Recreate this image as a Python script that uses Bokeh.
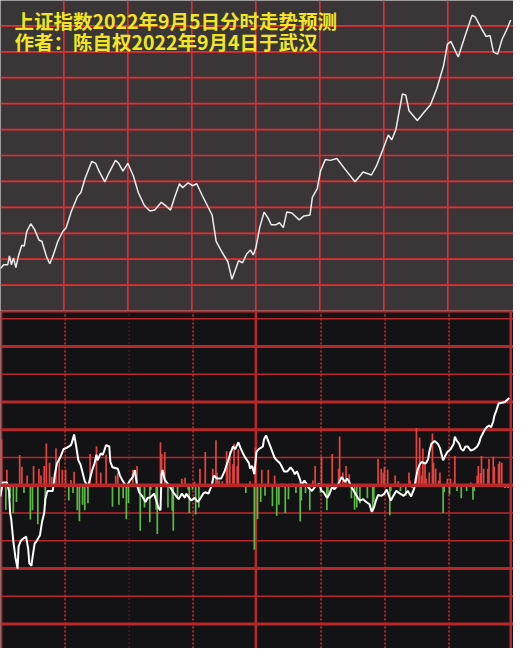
from bokeh.plotting import figure
from bokeh.models import Range1d, Span, Label
from bokeh.layouts import column
from bokeh.embed import file_html
from bokeh.resources import INLINE

# ---------------- data ----------------
title_line1 = "上证指数2022年9月5日分时走势预测"
title_line2 = "作者：陈自权2022年9月4日于武汉"

# top panel: predicted index (minutes after open, index level)
price_t = [0, 1.5, 3.4, 4.2, 5.1, 6.1, 7.2, 8.4, 10.0, 11.1,
           12.3, 14.2, 16.0, 18.1, 19.4, 21.6, 23.1, 24.6, 26.9, 29.2,
           30.8, 33.1, 36.1, 37.7, 39.7, 42.8, 44.6, 46.2, 48.9, 50.8,
           53.9, 55.4, 57.4, 59.7, 62.3, 64.6, 67.4, 70.0, 72.3, 75.4,
           77.7, 79.7, 81.6, 83.9, 85.4, 88.0, 90.0, 92.0, 94.6, 96.9,
           99.2, 101.1, 103.8, 106.6, 108.5, 110.0, 111.6, 113.5, 115.4, 117.2,
           118.5, 119.7, 121.5, 123.6, 125.4, 126.9, 129.2, 130.8, 132.6, 134.2,
           136.6, 140.0, 142.3, 145.1, 146.2, 148.5, 150.0, 152.3, 154.6, 157.7,
           161.5, 166.2, 170.0, 173.9, 176.2, 179.2, 181.8, 183.4, 185.4, 188.4,
           190.0, 191.5, 195.4, 198.5, 201.6, 204.6, 207.7, 209.5, 211.1, 214.6,
           217.7, 221.1, 222.6, 225.8, 227.7, 229.5, 231.1, 233.1, 235.1, 236.9,
           239.2]
price_v = [3162.8, 3163.6, 3163.6, 3165.4, 3163.6, 3165.0, 3163.0, 3165.4, 3167.6, 3167.4,
           3170.4, 3172.0, 3170.8, 3168.6, 3168.4, 3165.2, 3163.8, 3165.4, 3168.4, 3170.4,
           3171.2, 3174.4, 3177.6, 3178.4, 3181.4, 3184.8, 3184.4, 3182.8, 3180.6, 3182.4,
           3185.0, 3184.4, 3182.8, 3184.4, 3181.8, 3178.4, 3175.8, 3174.6, 3174.8, 3176.4,
           3175.6, 3174.8, 3177.4, 3180.2, 3179.4, 3180.4, 3179.8, 3180.2, 3177.8, 3175.8,
           3173.8, 3168.4, 3166.2, 3164.2, 3160.6, 3162.4, 3164.4, 3164.0, 3165.8, 3166.6,
           3165.6, 3167.0, 3171.2, 3174.4, 3173.2, 3171.8, 3171.8, 3172.2, 3171.2, 3174.4,
           3174.2, 3172.8, 3173.6, 3173.8, 3177.4, 3179.2, 3182.8, 3185.2, 3185.0, 3185.4,
           3183.2, 3180.6, 3182.6, 3182.0, 3183.8, 3187.2, 3190.2, 3189.2, 3191.4, 3198.6,
           3198.4, 3195.2, 3193.2, 3194.8, 3196.4, 3199.8, 3204.4, 3208.8, 3209.4, 3206.2,
           3210.4, 3214.8, 3214.4, 3211.8, 3210.4, 3210.6, 3207.2, 3206.8, 3209.8, 3211.4,
           3213.8]

# bottom panel: buy (red) / sell (green) bars
red_t = [0.5, 3.0, 9.0, 10.0, 12.5, 15.5, 18.0, 19.0, 20.5, 21.5,
         23.0, 24.0, 26.0, 27.5, 29.0, 30.5, 33.0, 34.5, 42.0, 45.0,
         47.0, 49.5, 54.0, 55.0, 62.0, 64.0, 75.0, 75.5, 77.0, 85.0,
         86.5, 91.0, 93.5, 96.0, 99.5, 101.0, 101.5, 102.5, 104.0, 106.0,
         106.5, 107.5, 109.0, 109.5, 111.0, 111.5, 117.0, 119.5, 122.5, 125.5,
         128.5, 132.0, 137.0, 146.5, 147.5, 150.5, 155.5, 158.5, 159.0, 160.5,
         162.0, 163.5, 176.5, 177.0, 178.5, 179.5, 180.0, 181.5, 185.0, 186.5,
         191.5, 192.0, 194.5, 195.0, 196.0, 196.5, 197.5, 198.0, 199.0, 199.5,
         201.0, 202.5, 203.0, 204.0, 205.5, 206.0, 209.5, 211.0, 212.5, 213.0,
         220.5, 223.5, 224.0, 225.0, 225.5, 226.5, 228.5, 229.0, 231.0, 231.5,
         233.5, 234.0, 235.0]
red_v = [1.65, 0.56, 1.09, 0.67, 0.35, 0.70, 0.6, 0.35, 0.70, 1.51,
         0.81, 0.3, 1.34, 0.98, 0.56, 0.56, 0.19, 0.49, 1.13, 1.41,
         0.46, 1.1, 0.35, 0.46, 0.56, 0.7, 1.55, 1.13, 1.2, 0.24,
         0.27, 0.13, 0.6, 1.2, 0.6, 1.62, 0.46, 0.17, 0.15, 1.23,
         0.88, 1.23, 0.76, 1.5, 0.7, 1.3, 0.15, 1.36, 0.56, 0.56,
         0.35, 0.07, 0.07, 0.17, 0.7, 1.03, 1.13, 0.6, 1.76, 0.46,
         0.7, 0.4, 0.05, 0.95, 0.6, 0.46, 0.67, 0.56, 0.35, 0.15,
         0.46, 0.17, 0.25, 2.07, 0.56, 1.72, 0.35, 1.33, 0.85, 0.25,
         0.46, 1.87, 0.81, 0.6, 0.17, 0.46, 0.24, 0.24, 0.1, 1.06,
         0.1, 0.35, 0.7, 0.44, 1.06, 0.6, 0.6, 0.95, 1.03, 0.67,
         0.78, 0.86, 0.81]
green_t = [2.5, 4.5, 6.0, 7.5, 11.0, 14.0, 15.0, 17.5, 21.0, 32.0,
           34.0, 36.0, 37.0, 38.5, 39.5, 41.0, 52.5, 55.5, 57.5, 59.0,
           60.0, 65.0, 65.5, 67.5, 70.0, 70.5, 73.0, 73.5, 78.5, 80.5,
           81.0, 83.0, 88.0, 88.5, 90.0, 91.5, 93.0, 115.0, 119.0, 120.5,
           122.0, 124.0, 127.5, 129.5, 130.5, 133.5, 135.0, 138.5, 140.5, 141.0,
           143.0, 145.0, 150.0, 153.0, 153.5, 156.5, 157.5, 164.5, 166.0, 167.0,
           168.5, 172.0, 174.5, 175.0, 182.5, 183.0, 187.5, 190.0, 193.0, 200.5,
           207.5, 208.0, 210.5, 214.0, 216.0, 218.5, 221.5, 222.0, 236.5, 238.0]
green_v = [-0.88, -0.45, -1.0, -0.6, -0.28, -1.23, -0.9, -1.4, -0.7, -0.55,
           -0.28, -0.9, -1.29, -0.7, -0.9, -0.65, -0.77, -0.7, -0.47, -1.22,
           -0.65, -0.28, -1.64, -0.8, -1.33, -0.16, -0.88, -1.75, -0.8, -0.92,
           -1.64, -0.4, -0.16, -1.0, -0.16, -1.05, -0.8, -0.28, -2.32, -1.22,
           -0.6, -0.38, -0.75, -1.1, -0.7, -1.0, -0.5, -0.28, -1.3, -0.55,
           -0.28, -0.9, -0.28, -0.9, -0.47, -0.1, -0.05, -0.47, -0.88, -0.8,
           -0.65, -0.47, -0.95, -0.6, -1.08, -0.2, -0.2, -0.38, -0.1, -0.05,
           -1.0, -0.25, -0.33, -0.2, -0.47, -0.2, -0.52, -0.2, -0.1, -0.1]

# bottom panel: white indicator line
ind_t = [0, 1.0, 3.0, 4.0, 4.5, 5.0, 6.0, 6.5, 7.0, 8.0,
         8.5, 9.5, 11.0, 12.0, 13.0, 13.5, 14.5, 15.0, 16.0, 17.0,
         18.5, 19.5, 20.5, 21.0, 22.0, 24.5, 25.5, 26.5, 28.0, 29.5,
         31.0, 33.0, 33.5, 34.5, 35.5, 36.5, 37.5, 38.5, 39.5, 41.0,
         42.0, 43.0, 44.0, 45.0, 45.5, 47.0, 48.0, 49.5, 51.0, 51.5,
         52.5, 55.0, 56.0, 57.0, 59.0, 60.5, 62.0, 63.0, 64.0, 65.0,
         66.5, 68.0, 69.0, 70.0, 72.0, 74.0, 75.0, 75.5, 76.0, 77.0,
         78.0, 79.0, 81.0, 82.0, 83.5, 85.0, 86.5, 87.0, 89.5, 91.0,
         92.5, 93.5, 95.0, 96.0, 97.5, 99.0, 100.0, 101.5, 103.5, 105.0,
         106.5, 108.0, 109.0, 110.0, 111.5, 112.5, 114.0, 115.0, 116.5, 117.0,
         118.0, 119.0, 120.0, 121.0, 122.0, 123.0, 123.5, 124.5, 125.5, 126.5,
         127.5, 128.5, 129.5, 131.0, 132.0, 133.0, 134.5, 136.0, 137.0, 138.0,
         139.0, 140.5, 141.0, 142.5, 143.5, 144.5, 146.0, 148.0, 149.5, 150.5,
         151.5, 153.0, 154.0, 155.5, 156.5, 158.0, 159.0, 160.0, 161.5, 162.5,
         163.5, 164.5, 166.0, 167.5, 168.5, 170.0, 171.5, 173.0, 174.0, 175.0,
         176.0, 177.0, 178.5, 180.0, 181.0, 182.0, 183.0, 184.0, 185.5, 187.0,
         189.0, 191.0, 192.5, 194.0, 195.0, 195.5, 196.5, 197.5, 198.5, 199.5,
         200.5, 201.0, 202.0, 203.5, 205.0, 206.0, 207.0, 207.5, 208.5, 209.5,
         211.0, 212.5, 213.0, 214.0, 215.0, 216.0, 217.0, 218.0, 219.0, 220.5,
         222.0, 223.5, 224.5, 225.0, 226.0, 227.0, 228.0, 229.0, 230.0, 231.0,
         231.5, 232.5, 233.5, 236.5, 238.5]
ind_v = [-0.4, 0.1, 0.1, -0.2, -1.0, -1.2, -2.0, -2.3, -2.6, -3.0,
         -2.2, -2.0, -1.9, -1.85, -2.3, -2.8, -2.9, -2.6, -2.1, -2.0,
         -1.8, -1.3, -1.0, -0.5, -0.2, -0.2, 0.4, 0.8, 1.0, 1.3,
         1.35, 1.45, 1.55, 1.83, 1.4, 0.9, 0.75, 0.45, 0.15, -0.05,
         0.25, 0.55, 0.77, 1.1, 0.9, 1.15, 1.1, 1.45, 1.4, 0.85,
         0.65, 0.6, 0.35, 0.2, -0.05, 0.15, 0.3, 0.55, 0.0, -0.25,
         -0.4, -0.6, -0.45, -0.45, -0.3, -0.8, -0.9, 0.4, 0.55, 0.2,
         0.1, 0.0, -0.25, -0.35, -0.5, -0.3, -0.45, -0.3, -0.55, -0.45,
         -0.6, -0.5, -0.3, -0.25, -0.3, 0.0, 0.35, 0.25, 0.25, 0.5,
         0.85, 1.2, 1.4, 1.3, 1.55, 1.35, 1.1, 0.97, 0.8, 0.6,
         0.7, 0.4, 1.2, 1.3, 1.35, 1.4, 1.65, 1.8, 1.6, 1.4,
         1.2, 1.0, 0.9, 0.8, 0.65, 0.5, 0.5, 0.65, 0.55, 0.4,
         0.5, 0.2, 0.0, 0.17, 0.05, -0.1, -0.2, 0.0, 0.05, -0.2,
         -0.25, -0.45, -0.35, -0.05, -0.15, 0.0, 0.15, 0.3, 0.12, 0.25,
         0.12, -0.05, -0.25, -0.45, -0.55, -0.5, -0.6, -0.68, -0.95, -0.82,
         -0.55, -0.35, -0.38, -0.3, -0.15, -0.35, -0.55, -0.4, -0.2, -0.28,
         -0.38, -0.2, -0.4, -0.1, 0.35, 0.55, 0.75, 0.85, 0.8, 0.8,
         0.95, 1.2, 1.5, 1.6, 1.5, 1.35, 1.05, 0.9, 1.07, 1.2,
         1.3, 1.5, 1.75, 1.6, 1.5, 1.3, 1.25, 1.4, 1.4, 1.25,
         1.3, 1.4, 1.55, 1.7, 1.85, 2.0, 2.1, 2.15, 2.1, 2.3,
         2.5, 2.7, 2.95, 3.0, 3.15]

# grid definitions
time_grid = [30, 60, 90, 120, 150, 180, 210]
price_mid = 3186.0
price_step = 5.32
bot_thick = [5, 3, 2, -3, -5]
bot_thin = [6, 4, 1, -1, -2, -4]

# ---------------- styles ----------------
W = 513
H_TOP = 310
H_BOT = 338
TOP_BG = "#3a3638"
BOT_BG = "#131316"
GRID_RED = "#ee2a2e"
DARK_RED = "#b8282b"
BAR_RED = "#e8423e"
BAR_GREEN = "#5cb848"
YELLOW = "#f2e622"

# ---------------- top panel ----------------
top = figure(width=W, height=H_TOP, x_range=Range1d(0, 240.5),
             y_range=Range1d(3154.2, 3217.8),
             x_axis_location=None, y_axis_location=None,
             toolbar_location=None, output_backend="svg", min_border=0,
             background_fill_color=TOP_BG, border_fill_color=TOP_BG,
             outline_line_color=None)
top.grid.visible = False

for k in range(-5, 6):
    top.add_layout(Span(location=price_mid + k * price_step, dimension="width",
                        line_color=GRID_RED, line_width=1.7, level="underlay"))
for m in time_grid:
    top.add_layout(Span(location=m - 0.3, dimension="height",
                        line_color=GRID_RED, line_width=1.6, level="underlay"))

top.line(price_t, price_v, line_color="#ececec", line_width=1.5)

for txt, yy in [(title_line1, H_TOP - 5), (title_line2, H_TOP - 26)]:
    top.add_layout(Label(x=14, y=yy, x_units="screen", y_units="screen",
                         text=txt, text_color=YELLOW, text_font_size="19.5px",
                         text_font="Noto Sans CJK SC", text_font_style="bold",
                         text_baseline="top", text_align="left"))

# ---------------- bottom panel ----------------
bot = figure(width=W, height=H_BOT, x_range=Range1d(0, 240.5),
             y_range=Range1d(-5.88, 6.30),
             x_axis_location=None, y_axis_location=None,
             toolbar_location=None, output_backend="svg", min_border=0,
             background_fill_color=BOT_BG, border_fill_color=BOT_BG,
             outline_line_color=None)
bot.grid.visible = False

for lv in bot_thin:
    bot.add_layout(Span(location=lv, dimension="width", line_color=DARK_RED,
                        line_width=1.5, level="underlay"))
for lv in bot_thick:
    bot.add_layout(Span(location=lv, dimension="width", line_color=DARK_RED,
                        line_width=3, level="underlay"))
# top border of the lower panel
bot.add_layout(Span(location=6.27, dimension="width", line_color=DARK_RED,
                    line_width=2.5, level="underlay"))
for m in time_grid:
    if m == 120:
        bot.add_layout(Span(location=m - 0.3, dimension="height", line_color=DARK_RED,
                            line_width=2.5, level="underlay"))
    elif m == 60:
        bot.add_layout(Span(location=m + 0.3, dimension="height", line_color=DARK_RED,
                            line_width=1, line_dash="1 3", level="underlay"))
    else:
        bot.add_layout(Span(location=m + 0.3, dimension="height", line_color=DARK_RED,
                            line_width=2, line_dash="2 2", level="underlay"))
# side borders
bot.add_layout(Span(location=0.4, dimension="height", line_color=DARK_RED,
                    line_width=2, level="underlay"))
bot.add_layout(Span(location=239.2, dimension="height", line_color=DARK_RED,
                    line_width=2.5, level="underlay"))

bot.vbar(x=red_t, top=red_v, bottom=0, width=0.8, fill_color=BAR_RED, line_color=None)
bot.vbar(x=green_t, top=green_v, bottom=0, width=0.8, fill_color=BAR_GREEN, line_color=None)

bot.add_layout(Span(location=0, dimension="width", line_color=DARK_RED, line_width=3.5))

bot.line(ind_t, ind_v, line_color="#ffffff", line_width=2)

layout = column(top, bot, spacing=0)

open("out.html", "w").write(file_html(layout, INLINE))
